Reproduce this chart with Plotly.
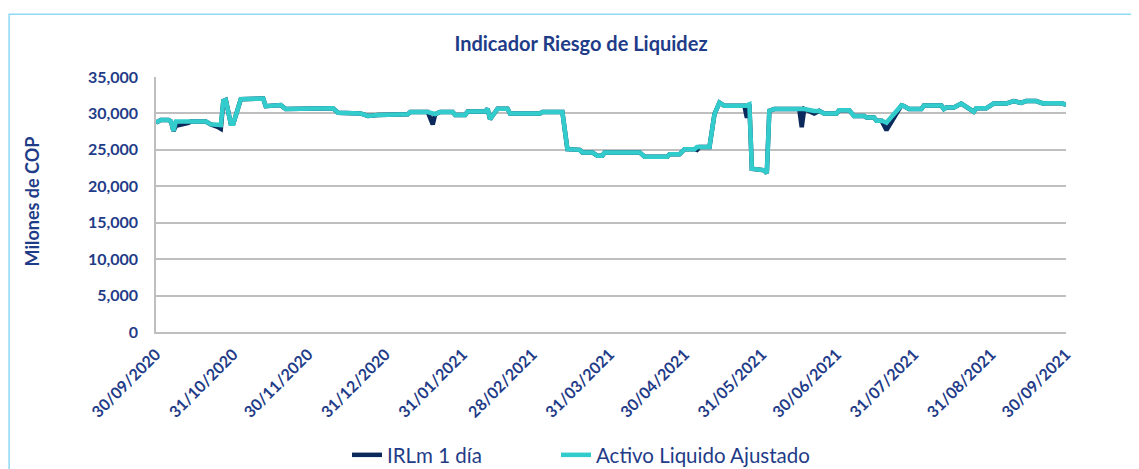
import plotly.graph_objects as go

dates = [
    "2020-09-30", "2020-10-02", "2020-10-05", "2020-10-06", "2020-10-07", "2020-10-08",
    "2020-10-13", "2020-10-14", "2020-10-20", "2020-10-22", "2020-10-25", "2020-10-26",
    "2020-10-27", "2020-10-28", "2020-10-30", "2020-10-31", "2020-11-03", "2020-11-10",
    "2020-11-12", "2020-11-13", "2020-11-18", "2020-11-19", "2020-11-21", "2020-12-02",
    "2020-12-10", "2020-12-12", "2020-12-21", "2020-12-24", "2020-12-28", "2021-01-09",
    "2021-01-10", "2021-01-17", "2021-01-19", "2021-01-20", "2021-01-22", "2021-01-27",
    "2021-01-28", "2021-02-01", "2021-02-02", "2021-02-09", "2021-02-10", "2021-02-11",
    "2021-02-14", "2021-02-18", "2021-02-19", "2021-03-03", "2021-03-04", "2021-03-12",
    "2021-03-14", "2021-03-19", "2021-03-20", "2021-03-24", "2021-03-26", "2021-03-28",
    "2021-03-29", "2021-04-12", "2021-04-14", "2021-04-23", "2021-04-24", "2021-04-28",
    "2021-04-30", "2021-05-04", "2021-05-05", "2021-05-06", "2021-05-10", "2021-05-12",
    "2021-05-14", "2021-05-16", "2021-05-24", "2021-05-25", "2021-05-26", "2021-05-27",
    "2021-06-01", "2021-06-02", "2021-06-03", "2021-06-05", "2021-06-15", "2021-06-16",
    "2021-06-17", "2021-06-21", "2021-06-23", "2021-06-25", "2021-06-30", "2021-07-01",
    "2021-07-05", "2021-07-07", "2021-07-11", "2021-07-12", "2021-07-15", "2021-07-16",
    "2021-07-18", "2021-07-20", "2021-07-26", "2021-07-27", "2021-07-29", "2021-08-03",
    "2021-08-04", "2021-08-11", "2021-08-12", "2021-08-13", "2021-08-16", "2021-08-19",
    "2021-08-24", "2021-08-25", "2021-08-29", "2021-09-01", "2021-09-06", "2021-09-09",
    "2021-09-12", "2021-09-14", "2021-09-18", "2021-09-21", "2021-09-22", "2021-09-28",
    "2021-09-30",
]

activo_liquido = [
    28750, 29100, 29100, 28900, 27600, 28900,
    28900, 28900, 28900, 28500, 28500, 28400,
    31700, 31850, 28600, 28600, 31950, 32000,
    32050, 31000, 31000, 31150, 30600, 30700,
    30700, 30100, 30000, 29650, 29800, 29900,
    30200, 30200, 29900, 29900, 30200, 30200,
    29800, 29800, 30250, 30250, 30650, 29200,
    30650, 30650, 30000, 30000, 30200, 30200,
    25100, 25000, 24650, 24650, 24200, 24200,
    24650, 24650, 24050, 24050, 24400, 24400,
    25100, 25100, 25400, 25400, 25400, 29900,
    31500, 31050, 31050, 31100, 31250, 22400,
    22200, 21800, 30350, 30600, 30600, 30600,
    30600, 30350, 30350, 30000, 30000, 30450,
    30450, 29650, 29650, 29450, 29450, 29000,
    29000, 28750, 31100, 31000, 30600, 30600,
    31100, 31100, 30600, 30800, 30800, 31350,
    30250, 30700, 30700, 31350, 31350, 31700,
    31450, 31700, 31700, 31350, 31400, 31400,
    31200,
]

irlm_1dia = [
    28750, 29100, 29100, 28900, 27600, 28300,
    28700, 28900, 28900, 28500, 28100, 27900,
    31700, 31850, 28600, 28600, 31950, 32000,
    32050, 31000, 31000, 31150, 30600, 30700,
    30700, 30100, 30000, 29650, 29800, 29900,
    30200, 30200, 28500, 29900, 30200, 30200,
    29800, 29800, 30250, 30250, 30650, 29200,
    30650, 30650, 30000, 30000, 30200, 30200,
    25100, 25000, 24650, 24650, 24200, 24200,
    24650, 24650, 24050, 24050, 24400, 24400,
    25100, 25100, 25000, 25400, 25400, 29900,
    31500, 31050, 31050, 29400, 31250, 22400,
    22200, 21800, 30350, 30600, 30600, 28100,
    30600, 30000, 30350, 30000, 30000, 30450,
    30450, 29650, 29650, 29450, 29450, 29000,
    29000, 27700, 31100, 31000, 30600, 30600,
    31100, 31100, 30600, 30800, 30800, 31350,
    30250, 30700, 30700, 31350, 31350, 31700,
    31450, 31700, 31700, 31350, 31400, 31400,
    31200,
]

tick_dates = [
    "2020-09-30", "2020-10-31", "2020-11-30", "2020-12-31", "2021-01-31", "2021-02-28",
    "2021-03-31", "2021-04-30", "2021-05-31", "2021-06-30", "2021-07-31", "2021-08-31",
    "2021-09-30",
]
tick_labels = [
    "30/09/2020", "31/10/2020", "30/11/2020", "31/12/2020", "31/01/2021", "28/02/2021",
    "31/03/2021", "30/04/2021", "31/05/2021", "30/06/2021", "31/07/2021", "31/08/2021",
    "30/09/2021",
]
y_ticks = [0, 5000, 10000, 15000, 20000, 25000, 30000, 35000]

TXT = "#1F3C88"
NAVY = "#0B2A5B"
CYAN = "#33CCCC"
FONT = "Lato"

# page body has an 8px margin: figure coordinates = screenshot coordinates - 8
W, H = 1131, 461
L, R, T, B = 147.7, 1057.7, 68.7, 324.0
PW, PH = R - L, B - T


def px(x):
    return (x - L) / PW


def py(y):
    return (B - y) / PH


fig = go.Figure()
fig.add_trace(go.Scatter(x=dates, y=irlm_1dia, mode="lines", name="IRLm 1 día",
                         line=dict(color=NAVY, width=4.5), legend="legend"))
fig.add_trace(go.Scatter(x=dates, y=activo_liquido, mode="lines", name="Activo Liquido Ajustado",
                         line=dict(color=CYAN, width=4.5), legend="legend2"))

leg_common = dict(orientation="h", xref="container", yref="container",
                  yanchor="middle", y=1 - 447 / H, xanchor="left",
                  font=dict(size=20.5, color=TXT, family=FONT), bgcolor="rgba(0,0,0,0)",
                  itemwidth=30)

fig.update_layout(
    width=W, height=H,
    margin=dict(l=L, r=W - R, t=T, b=H - B, autoexpand=False),
    paper_bgcolor="white", plot_bgcolor="white",
    font=dict(family=FONT, color=TXT),
    title=dict(text="<b>Indicador Riesgo de Liquidez</b>", x=573 / W, xanchor="center",
               y=1 - 36 / H, yanchor="middle", font=dict(size=20, color=TXT, family=FONT)),
    showlegend=True,
    legend=dict(leg_common, x=339 / W),
    legend2=dict(leg_common, x=548 / W),
)
fig.update_xaxes(
    type="date", range=["2020-09-30", "2021-09-30"], automargin=False,
    tickvals=tick_dates, ticktext=tick_labels, tickangle=-45, ticklabelstandoff=5,
    tickfont=dict(size=16, color=TXT, family=FONT, weight="bold"), showgrid=False,
    showline=True, linecolor="#BFBFBF", linewidth=1.5, ticks="", zeroline=False,
)
fig.update_yaxes(
    range=[0, 35000], tickvals=y_ticks, tickformat=",d", automargin=False,
    ticklabelstandoff=13,
    tickfont=dict(size=16, color=TXT, family=FONT, weight="bold"),
    showgrid=True, gridcolor="#BFBFBF", gridwidth=1.5,
    showline=True, linecolor="#BFBFBF", linewidth=1.5, zeroline=False, ticks="",
)
fig.add_annotation(text="<b>Milones de COP</b>", xref="paper", yref="paper",
                   x=px(24), y=py(193), textangle=-90,
                   showarrow=False, xanchor="center", yanchor="middle",
                   font=dict(size=18, color=TXT, family=FONT))
fig.add_shape(type="rect", xref="paper", yref="paper",
              x0=px(0.8), x1=px(1150), y0=py(480), y1=py(6),
              line=dict(color="#8FD9F5", width=1.5), fillcolor="rgba(0,0,0,0)", layer="below")

fig.write_html("out.html")
